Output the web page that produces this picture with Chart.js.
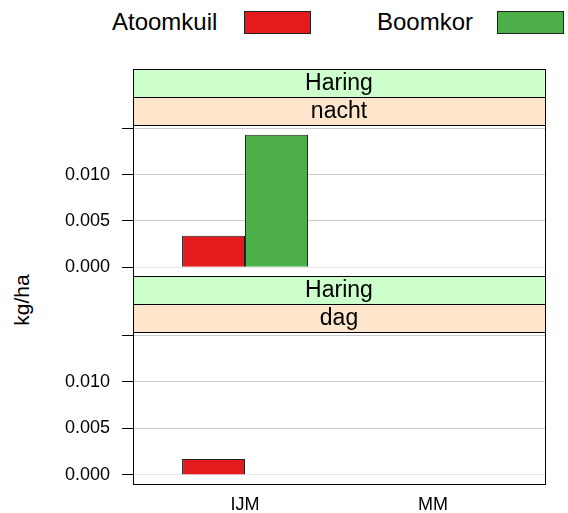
<!DOCTYPE html>
<html>
<head>
<meta charset="utf-8">
<script src="https://cdn.jsdelivr.net/npm/chart.js@4/dist/chart.umd.min.js"></script>
<style>
  body { margin: 0; background: #fff; }
  #wrap { position: relative; width: 568px; height: 513px; overflow: hidden; font-family: 'Liberation Sans', Arial, sans-serif; }
  canvas { position: absolute; left: 0; }
  .lgtext { position: absolute; font-size: 24px; line-height: 24px; color: #000; }
  .lgbox { position: absolute; border: 1px solid #222; box-sizing: border-box; }
  #ytitle { position: absolute; font-size: 21px; left: 22px; top: 300px; transform: translate(-50%, -50%) rotate(-90deg); white-space: nowrap; }
</style>
</head>
<body>
<div id="wrap">
  <div class="lgtext" style="left:112px; top:10px;">Atoomkuil</div>
  <div class="lgbox" style="left:244px; top:11px; width:67px; height:23px; background:#E41A1C;"></div>
  <div class="lgtext" style="left:377px; top:10px;">Boomkor</div>
  <div class="lgbox" style="left:497px; top:11px; width:67px; height:23px; background:#4DAF4A;"></div>
  <div id="ytitle">kg/ha</div>
  <canvas id="top" width="568" height="239" style="top:60px"></canvas>
  <canvas id="bottom" width="568" height="241" style="top:272px"></canvas>
</div>
<script>
const categories = ['IJM', 'MM'];
const seriesNames = ['Atoomkuil', 'Boomkor'];
const atoomkuilNacht = [0.0034, null];
const boomkorNacht = [0.0143, null];
const atoomkuilDag = [0.0017, null];
const boomkorDag = [null, null];
const yTicks = [0, 0.005, 0.010, 0.015];
const species = 'Haring';

const red = '#E41A1C';
const green = '#4DAF4A';
const font = "'Liberation Sans', Arial, sans-serif";

function points(values) {
  return values.map((v, i) => ({ x: i + 1, y: v }));
}

// strips + box around the panel
const panelDeco = {
  id: 'panelDeco',
  afterDraw(chart, args, opts) {
    const ctx = chart.ctx;
    const a = chart.chartArea;
    const h = 28;
    const strips = [[opts.top, '#CCFFCC'], [opts.bottom, '#FFE5CC']];
    ctx.save();
    ctx.lineWidth = 1;
    ctx.strokeStyle = '#000';
    strips.forEach((s, i) => {
      const y = a.top - h * (2 - i);
      ctx.fillStyle = s[1];
      ctx.fillRect(a.left, y, a.right - a.left, h);
      ctx.strokeRect(a.left + 0.5, y + 0.5, a.right - a.left, h);
      ctx.fillStyle = '#000';
      ctx.font = '23px ' + font;
      ctx.textAlign = 'center';
      ctx.textBaseline = 'middle';
      ctx.fillText(s[0], (a.left + a.right) / 2, y + h / 2 + 1);
    });
    ctx.strokeRect(a.left + 0.5, a.top + 0.5, a.right - a.left, a.bottom - a.top);
    ctx.restore();
  }
};

function makePanel(id, stripLabel, aVals, bVals, showX, pad) {
  return new Chart(document.getElementById(id), {
    type: 'bar',
    data: {
      datasets: [
        { label: seriesNames[0], data: points(aVals), backgroundColor: red, borderColor: '#222', borderWidth: 1 },
        { label: seriesNames[1], data: points(bVals), backgroundColor: green, borderColor: '#222', borderWidth: 1 }
      ]
    },
    options: {
      responsive: false,
      animation: false,
      categoryPercentage: 0.67,
      barPercentage: 1,
      layout: { padding: pad },
      plugins: {
        legend: { display: false },
        tooltip: { enabled: false },
        panelDeco: { top: species, bottom: stripLabel }
      },
      scales: {
        x: {
          type: 'linear',
          offset: false,
          min: 0.404,
          max: 2.596,
          afterBuildTicks: s => { s.ticks = categories.map((c, i) => ({ value: i + 1 })); },
          afterFit: s => { s.height = showX ? 29 : 0; },
          grid: { display: false, drawTicks: false, offset: false },
          border: { display: false },
          ticks: {
            display: showX,
            padding: 10,
            color: '#000',
            font: { family: font, size: 18 },
            callback: v => categories[v - 1]
          }
        },
        y: {
          min: -0.00098,
          max: 0.01535,
          afterBuildTicks: s => { s.ticks = yTicks.map(v => ({ value: v })); },
          afterFit: s => { s.width = 133; },
          grid: {
            color: ctx => ctx.tick && ctx.tick.value === 0 ? '#e6e6e6' : '#cccccc',
            tickColor: '#000',
            tickLength: 11
          },
          border: { display: false },
          ticks: {
            padding: 12,
            color: '#000',
            font: { family: font, size: 18 },
            callback: v => v === 0.015 ? '' : v.toFixed(3)
          }
        }
      }
    },
    plugins: [panelDeco]
  });
}

makePanel('top', 'nacht', atoomkuilNacht, boomkorNacht, false, { top: 65, bottom: 4, left: 0, right: 23 });
makePanel('bottom', 'dag', atoomkuilDag, boomkorDag, true, { top: 60, bottom: 0, left: 0, right: 23 });
</script>
</body>
</html>
